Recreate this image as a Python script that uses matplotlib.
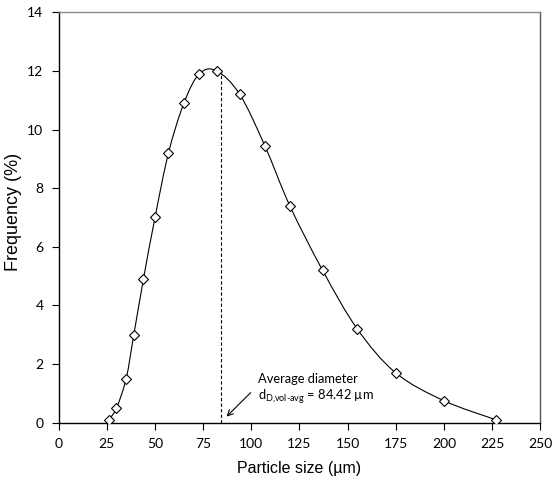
import numpy as np
import matplotlib
matplotlib.use("Agg")
import matplotlib.pyplot as plt
from matplotlib.path import Path
from matplotlib.patches import PathPatch

# particle size distribution
size_um = [26, 30, 35, 39, 44, 50, 57, 65, 73, 82, 94, 107, 120, 137, 155, 175, 200, 227]
freq_pct = [0.1, 0.5, 1.5, 3.0, 4.9, 7.0, 9.2, 10.9, 11.9, 12.0, 11.2, 9.45, 7.4, 5.2, 3.2, 1.7, 0.75, 0.1]
d_avg = 84.42
peak_at_avg = 12.0

plt.rcParams['mathtext.fontset'] = 'custom'
plt.rcParams['mathtext.rm'] = 'Lato'

fig = plt.figure(figsize=(5.54, 4.84), dpi=100)
ax = fig.add_axes([0.106, 0.1267, 0.869, 0.848])

# smoothed line like a spreadsheet "smooth line" (cubic bezier through the points)
pts = np.column_stack([size_um, freq_pct])
verts = [pts[0]]
codes = [Path.MOVETO]
n = len(pts)
for i in range(n - 1):
    p0 = pts[i - 1] if i > 0 else pts[i]
    p1 = pts[i]
    p2 = pts[i + 1]
    p3 = pts[i + 2] if i + 2 < n else pts[i + 1]
    verts += [p1 + (p2 - p0) / 6.0, p2 - (p3 - p1) / 6.0, p2]
    codes += [Path.CURVE4] * 3
ax.add_patch(PathPatch(Path(verts, codes), fill=False, edgecolor='black', lw=0.8))

ax.plot(size_um, freq_pct, ls='none', marker='D', ms=4.8, mfc='white', mec='black', mew=0.8, zorder=3)

ax.plot([d_avg, d_avg], [0, peak_at_avg], ls=(0, (3, 2)), color='black', lw=0.8)

ax.annotate('', xy=(86.1, 0.14), xytext=(100.7, 1.09),
            arrowprops=dict(arrowstyle='->', color='black', lw=0.8))
ax.text(103.6, 1.35, 'Average diameter', fontsize=9.3, family='Lato', va='baseline')
ax.text(103.6, 0.77, r'd$_{\text{D,vol-avg}}$ = 84.42 µm', fontsize=9.3, family='Lato', va='baseline')

ax.set_xlim(0, 250)
ax.set_ylim(0, 14)
ax.set_xticks(np.arange(0, 251, 25))
ax.set_yticks(np.arange(0, 15, 2))
ax.tick_params(direction='out', length=5, width=0.8, labelsize=10, pad=6)
for lab in ax.get_xticklabels() + ax.get_yticklabels():
    lab.set_family('Lato')
ax.spines['top'].set_color('#888888')
ax.spines['right'].set_color('#555555')
for s in ax.spines.values():
    s.set_linewidth(1.0)

ax.set_xlabel('Particle size (µm)', fontsize=11.5, family='Liberation Sans', labelpad=8)
ax.set_ylabel('Frequency (%)', fontsize=13, family='Liberation Sans')
ax.yaxis.set_label_coords(-0.076, 0.513)

fig.savefig('out.png', dpi=100)
